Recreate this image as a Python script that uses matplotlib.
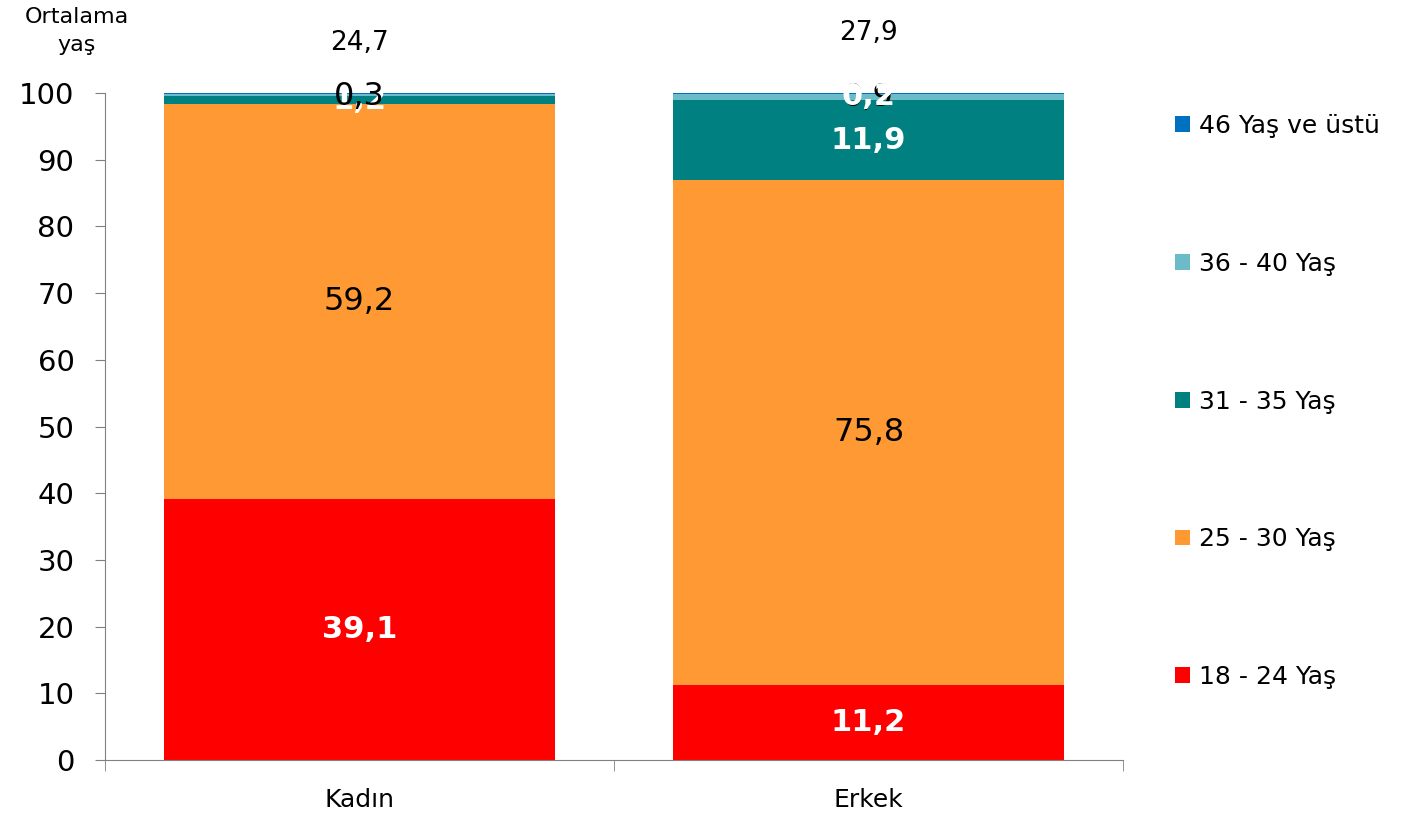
import matplotlib.pyplot as plt
import numpy as np

plt.rcParams['font.family'] = ['DejaVu Sans']

categories = ['Kadın', 'Erkek']
groups = ['18 - 24 Yaş', '25 - 30 Yaş', '31 - 35 Yaş', '36 - 40 Yaş', '46 Yaş ve üstü']
values = {
    '18 - 24 Yaş': [39.1, 11.2],
    '25 - 30 Yaş': [59.2, 75.8],
    '31 - 35 Yaş': [1.2, 11.9],
    '36 - 40 Yaş': [0.3, 0.9],
    '46 Yaş ve üstü': [0.2, 0.2],
}
avg_age = ['24,7', '27,9']
colors = ['#FF0000', '#FF9933', '#008080', '#6BBCC8', '#0070C0']
# label style per group: (color, bold)
label_style = [('white', True), ('black', False), ('white', True), ('black', False), ('white', True)]

fig = plt.figure(figsize=(14.1, 8.14), dpi=100)
ax = fig.add_axes([105 / 1410, 54 / 814, 1018 / 1410, 667 / 814])

x = np.arange(len(categories))
bottom = np.zeros(len(categories))
handles = []
for g, c, (tc, bold) in zip(groups, colors, label_style):
    v = np.array(values[g])
    bars = ax.bar(x, v, bottom=bottom, width=0.77, color=c, label=g)
    handles.append(bars)
    for xi, vi, bi in zip(x, v, bottom):
        if g == '46 Yaş ve üstü':
            if xi == 0:
                continue  # hidden behind the 0,3 label in the original
            y = 99.5
        elif g == '36 - 40 Yaş':
            y = 99.5 if xi == 0 else 99.3
        else:
            y = bi + vi / 2
        ax.text(xi, y, f'{vi:.1f}'.replace('.', ','), ha='center', va='center',
                color=tc, fontsize=23 if not bold else 22,
                fontweight='bold' if bold else 'normal')
    bottom += v

for xi, a, yy in zip(x, avg_age, [1.075, 1.09]):
    ax.text(xi, yy, a, transform=ax.get_xaxis_transform(), ha='center', va='center', fontsize=19)
fig.text(77 / 1410, 1 - 31 / 814, 'Ortalama\nyaş', ha='center', va='center', fontsize=16, linespacing=1.45)

ax.set_xlim(-0.5, 1.5)
ax.set_ylim(0, 100)
ax.set_yticks(range(0, 101, 10))
ax.tick_params(axis='y', labelsize=21, length=7, color='#808080', pad=15)
ax.set_xticks(x)
ax.set_xticklabels(categories, fontsize=18)
ax.set_xticks([-0.5, 0.5, 1.5], minor=True)
ax.tick_params(axis='x', which='major', length=0, pad=20)
ax.tick_params(axis='x', which='minor', length=8, color='#808080')
for s in ['top', 'right']:
    ax.spines[s].set_visible(False)
for s in ['left', 'bottom']:
    ax.spines[s].set_color('#808080')

leg = fig.legend(handles[::-1], groups[::-1], loc='upper left',
                 bbox_to_anchor=(1165 / 1410, 1 - 104 / 814), frameon=False,
                 fontsize=18, handlelength=0.6, handleheight=0.6, handletextpad=0.35,
                 labelspacing=4.55, borderaxespad=0)

fig.savefig('out.png', dpi=100)
